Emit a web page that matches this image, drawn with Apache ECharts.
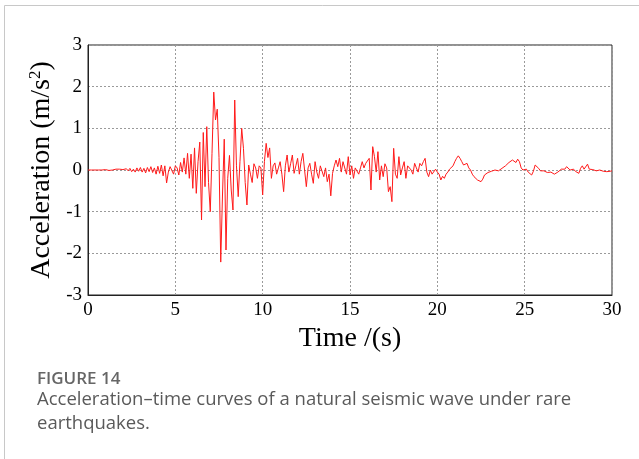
<!DOCTYPE html>
<html>
<head>
<meta charset="utf-8">
<script src="https://cdn.jsdelivr.net/npm/echarts@6/dist/echarts.min.js"></script>
<style>
html,body{margin:0;padding:0;background:#fff;}
#chart{width:639px;height:459px;}
</style>
</head>
<body>
<div id="chart"></div>
<script>
// Time step of the record (s)
const timeStep = 0.1;
// Acceleration values (m/s^2), one per 0.1 s from 0.0 s to 30.0 s
const accel = [
  0, 0, 0, 0, 0, 0, 0, 0, 0, 0,
  0.01, 0, -0.01, 0.01, 0, -0.02, 0.02, -0.01, 0.02, -0.02,
  0.01, -0.03, 0.03, -0.02, 0.04, -0.04, 0.02, -0.05, 0.05, -0.03,
  0.06, -0.05, 0.04, -0.07, 0.06, -0.04, 0.08, -0.06, 0.05, -0.1,
  0.09, -0.08, 0.12, -0.14, 0.1, -0.31, -0.05, 0.08, 0.12, -0.1,
  0.1, 0.05, -0.12, 0.18, -0.05, 0.29, -0.1, 0.4, -0.2, 0.38,
  -0.44, 0.53, -0.56, 0.2, 0.67, -1.2, 0.9, -0.4, 1.04, -0.3,
  -1.0, 0.4, 1.87, 1.2, 1.46, 0.3, -2.21, -0.6, 0.74, -1.92,
  -0.2, 0.35, -0.48, -0.96, 1.68, 0.1, -0.64, 0.2, 1.0, 0.52,
  -0.3, -0.84, 0.12, -0.1, -0.3, 0.15, 0.05, -0.2, 0.1, 0.05,
  -0.6, 0.2, 0.64, 0.3, 0.53, -0.2, 0.1, 0.17, -0.1, 0.05,
  0.2, -0.1, -0.52, 0.1, 0.36, -0.05, 0.15, 0.36, -0.08, 0.1,
  0.28, -0.1, 0.2, 0.4, 0, -0.4, 0.05, 0.16, -0.1, -0.32,
  0.2, -0.05, -0.2, 0.1, 0.08, -0.16, 0.05, -0.28, -0.1, -0.62,
  -0.08, 0.1, 0.24, 0.08, 0.28, -0.05, 0.2, 0.16, -0.1, 0.32,
  -0.12, 0.1, -0.2, 0.05, 0.08, -0.1, 0.05, 0.2, 0.05, 0.16,
  0.2, 0.28, -0.48, 0.56, 0.32, -0.05, 0.44, -0.24, 0.1, -0.16,
  0.15, 0.05, -0.52, -0.4, -0.76, 0.52, -0.1, -0.2, 0.32, -0.12,
  0.05, 0.2, -0.2, 0.1, 0.12, 0.0, -0.1, 0.16, 0.05, -0.05,
  0.16, 0.1, 0.2, 0.28, -0.05, -0.16, 0.0, -0.1, -0.12, 0.02,
  -0.05, -0.1, -0.24, -0.15, -0.2, -0.1, -0.05, 0.02, 0.04, 0.1,
  0.2, 0.28, 0.34, 0.28, 0.2, 0.12, 0.14, 0.16, 0.05, 0.0,
  -0.1, -0.16, -0.2, -0.24, -0.26, -0.28, -0.22, -0.12, -0.1, -0.06,
  -0.06, -0.03, -0.04, 0.0, -0.03, -0.02, 0.02, 0.04, 0.06, 0.1,
  0.12, 0.18, 0.2, 0.24, 0.22, 0.18, 0.26, 0.2, 0.05, 0.0,
  -0.02, 0.02, -0.05, -0.02, -0.12, -0.03, 0.12, 0.14, 0.04, -0.02,
  -0.04, -0.02, -0.05, -0.06, -0.03, -0.05, -0.08, -0.1, -0.06, -0.05,
  -0.02, 0.02, 0.05, 0.02, 0.08, 0.04, 0.0, -0.03, 0.02, -0.03,
  0.0, -0.08, 0.04, 0.1, 0.02, 0.06, 0.14, 0.02, -0.02, 0.01,
  0.02, -0.02, -0.03, 0.0, -0.02, -0.03, 0.0, -0.04, -0.02, -0.03,
  -0.02
];
const xTicks = [0, 5, 10, 15, 20, 25, 30];
const yTicks = [-3, -2, -1, 0, 1, 2, 3];
const xTitle = 'Time /(s)';
const yTitle = 'Acceleration (m/s{sup|2})';
const figLabel = 'FIGURE 14';
const captionLines = [
  'Acceleration\u2013time curves of a natural seismic wave under rare',
  'earthquakes.'
];

const seriesData = accel.map((a, i) => [+(i * timeStep).toFixed(2), a]);

const chart = echarts.init(document.getElementById('chart'), null, {renderer: 'canvas'});
const serif = '"Liberation Serif", "Times New Roman", serif';
const sans = '"Open Sans", "Noto Sans", sans-serif';
chart.setOption({
  animation: false,
  backgroundColor: '#ffffff',
  grid: {
    left: 88, right: 27, top: 45, bottom: 164,
    show: true, borderColor: '#222', borderWidth: 1, backgroundColor: 'transparent'
  },
  xAxis: {
    type: 'value',
    min: xTicks[0], max: xTicks[xTicks.length - 1], interval: 5,
    name: xTitle, nameLocation: 'middle', nameGap: 18,
    nameTextStyle: {fontFamily: serif, fontSize: 28, color: '#000'},
    axisLine: {show: true, onZero: false, lineStyle: {color: '#222', width: 1}},
    axisTick: {show: false},
    axisLabel: {fontFamily: serif, fontSize: 19, color: '#000', margin: 6},
    splitLine: {show: true, lineStyle: {color: '#9a9a9a', type: [2, 2], width: 1}}
  },
  yAxis: {
    type: 'value',
    min: yTicks[0], max: yTicks[yTicks.length - 1], interval: 1,
    name: yTitle, nameLocation: 'middle', nameGap: 30,
    nameTextStyle: {
      fontFamily: serif, fontSize: 28, color: '#000',
      rich: {sup: {fontFamily: serif, fontSize: 17, color: '#000', verticalAlign: 'top', padding: [0, 0, 12, 0]}}
    },
    axisLine: {show: true, onZero: false, lineStyle: {color: '#222', width: 1}},
    axisTick: {show: false},
    axisLabel: {fontFamily: serif, fontSize: 19, color: '#000', margin: 6},
    splitLine: {show: true, lineStyle: {color: '#9a9a9a', type: [2, 2], width: 1}}
  },
  series: [{
    type: 'line',
    data: seriesData,
    showSymbol: false,
    symbol: 'none',
    lineStyle: {color: '#ff1a1a', width: 1},
    z: 3
  }],
  graphic: [
    {type: 'rect', shape: {x: 4.5, y: 5.5, width: 700, height: 500}, style: {fill: 'none', stroke: '#c8c8c8', lineWidth: 1}, silent: true},
    {type: 'text', left: 37, top: 371, style: {text: figLabel, fontFamily: sans, fontSize: 17, fontWeight: 600, fill: '#666'}},
    {type: 'text', left: 37, top: 390, style: {text: captionLines[0], fontFamily: sans, fontSize: 18.5, fill: '#5a5a5a'}},
    {type: 'text', left: 37, top: 414, style: {text: captionLines[1], fontFamily: sans, fontSize: 18.5, fill: '#5a5a5a'}}
  ]
});
</script>
</body>
</html>
